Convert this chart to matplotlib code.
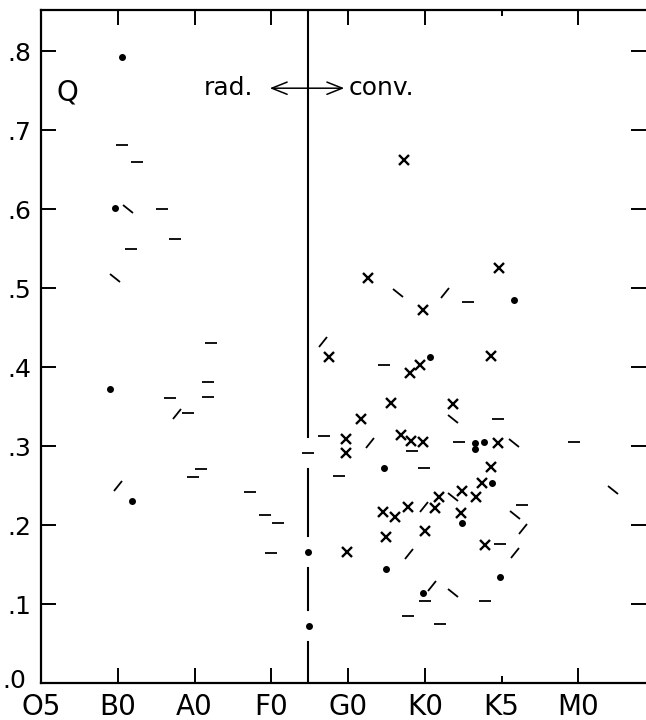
import matplotlib.pyplot as plt
from matplotlib.ticker import FixedLocator, FuncFormatter
from matplotlib.markers import MarkerStyle
from matplotlib.transforms import Affine2D

# spectral types along the x axis
types = ['O5', 'B0', 'A0', 'F0', 'G0', 'K0', 'K5', 'M0']

# dots
dot_x = [1.05, 0.97, 0.90, 1.19, 3.48, 3.49, 6.16, 5.07, 4.47, 5.65, 5.65, 5.77,
         5.87, 5.48, 4.49, 5.98, 4.97]
dot_y = [0.792, 0.601, 0.372, 0.230, 0.166, 0.072, 0.485, 0.413, 0.272, 0.304, 0.296, 0.305,
         0.253, 0.203, 0.144, 0.134, 0.114]

# crosses
x_x = [4.73, 4.26, 4.97, 5.96, 3.75, 4.80, 4.93, 5.86, 4.56, 5.37, 4.17, 3.97,
       3.97, 4.69, 4.82, 4.97, 5.95, 5.86, 5.75, 5.66, 5.48, 5.18, 5.13, 4.78,
       4.45, 4.61, 5.47, 4.49, 5.00, 3.98, 5.78]
x_y = [0.662, 0.513, 0.472, 0.525, 0.413, 0.392, 0.402, 0.414, 0.354, 0.353, 0.334, 0.309,
       0.291, 0.314, 0.306, 0.305, 0.304, 0.274, 0.253, 0.235, 0.243, 0.236, 0.221, 0.223,
       0.216, 0.210, 0.215, 0.185, 0.193, 0.166, 0.175]

# horizontal dashes
h_x = [1.05, 1.25, 1.57, 1.75, 1.17, 2.21, 1.68, 2.17, 2.17, 1.92, 1.98, 2.09,
       2.72, 2.92, 3.09, 2.99, 3.48, 3.69, 5.56, 4.47, 3.88, 4.83, 5.44, 4.99,
       5.95, 6.94, 6.26, 5.98, 5.00, 5.78, 4.78, 5.20]
h_y = [0.681, 0.660, 0.600, 0.562, 0.550, 0.430, 0.361, 0.381, 0.362, 0.342, 0.261, 0.271,
       0.242, 0.213, 0.203, 0.165, 0.291, 0.313, 0.482, 0.402, 0.262, 0.294, 0.305, 0.272,
       0.334, 0.305, 0.225, 0.176, 0.104, 0.104, 0.085, 0.075]

# rising dashes  /
r_x = [1.77, 1.00, 5.26, 3.67, 4.28, 4.99, 4.79, 6.28, 6.17, 5.09]
r_y = [0.340, 0.249, 0.494, 0.432, 0.304, 0.223, 0.163, 0.195, 0.164, 0.123]

# falling dashes  \
f_x = [1.13, 0.97, 4.65, 5.37, 5.36, 6.16, 7.45, 6.17, 5.37]
f_y = [0.600, 0.513, 0.494, 0.334, 0.235, 0.304, 0.244, 0.213, 0.114]

vline_x = 3.48   # radiative / convective boundary

plt.rcParams['font.family'] = ['DejaVu Sans']

fig = plt.figure(figsize=(6.46, 7.2), dpi=100)
ax = fig.add_axes([41 / 646, 37 / 720, 1 - 41 / 646, 673 / 720])
ax.set_xlim(0, 7.88)
ax.set_ylim(0, 0.852)

# vertical line, broken around the marks that sit on it
on_line = sorted([y for x, y in zip(dot_x + h_x, dot_y + h_y) if abs(x - vline_x) < 0.05])
gap = 0.02
y0 = 0.0
for y in on_line:
    ax.plot([vline_x, vline_x], [y0, y - gap], color='black', lw=1.5)
    y0 = y + gap
ax.plot([vline_x, vline_x], [y0, 0.852], color='black', lw=1.5)

rise = MarkerStyle('_', transform=Affine2D().rotate_deg(52))
fall = MarkerStyle('_', transform=Affine2D().rotate_deg(-40))

ax.plot(dot_x, dot_y, 'o', color='black', ms=4, ls='none')
ax.plot(x_x, x_y, 'x', color='black', ms=6.5, mew=1.7, ls='none')
ax.plot(h_x, h_y, '_', color='black', ms=8, mew=1.3, ls='none')
ax.plot(r_x, r_y, marker=rise, color='black', ms=9, mew=1.3, ls='none')
ax.plot(f_x, f_y, marker=fall, color='black', ms=9, mew=1.3, ls='none')

ax.text(0.34, 0.748, 'Q', fontsize=20, ha='center', va='center')
ax.text(2.76, 0.753, 'rad.', fontsize=18, ha='right', va='center')
ax.text(4.01, 0.753, 'conv.', fontsize=18, ha='left', va='center')
ax.annotate('', xy=(2.98, 0.753), xytext=(3.95, 0.753),
            arrowprops=dict(arrowstyle='<->, head_length=0.55, head_width=0.22',
                            mutation_scale=20, lw=1.1, color='black',
                            shrinkA=0, shrinkB=0))

# axes and ticks
ax.xaxis.set_major_locator(FixedLocator(range(len(types))))
ax.set_xticklabels(types, fontsize=20)
ax.yaxis.set_major_locator(FixedLocator([i / 10 for i in range(9)]))
ax.yaxis.set_major_formatter(FuncFormatter(lambda v, p: '.%d' % round(v * 10) if v > 0 else ''))
ax.tick_params(axis='both', direction='in', length=11, width=1.4, top=True, right=True)
ax.tick_params(axis='x', pad=7, labelsize=20)
ax.tick_params(axis='y', pad=7, labelsize=18)
k5 = ax.xaxis.get_major_ticks()[6]
k5.tick1line.set_markersize(5)
k5.tick2line.set_markersize(4)

# the zero label sits a little left of the others, above the O5 label
ax.text(-0.19, 0.003, '.0', fontsize=18, ha='right', va='center', clip_on=False)

ax.spines['right'].set_visible(False)
for s in ['left', 'bottom', 'top']:
    ax.spines[s].set_linewidth(1.6)

fig.savefig('out.png', dpi=100)
